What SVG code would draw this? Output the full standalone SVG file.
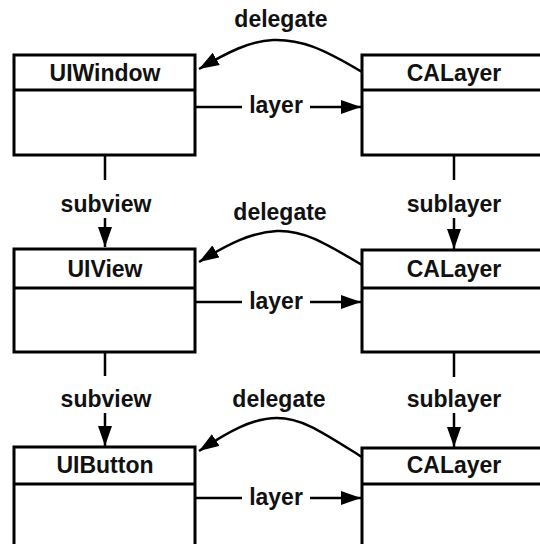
<svg xmlns="http://www.w3.org/2000/svg" width="540" height="544" viewBox="0 0 540 544">
<style>
.box{fill:#fff;stroke:#000;stroke-width:3}
.div{stroke:#000;stroke-width:3}
.ln{fill:none;stroke:#000;stroke-width:2.5}
text{font-family:"Liberation Sans",Arial,Helvetica,sans-serif;font-weight:bold;font-size:23px;fill:#111;text-anchor:middle}
</style>
<defs>
<marker id="ah" markerUnits="userSpaceOnUse" markerWidth="22" markerHeight="16" refX="20" refY="7" orient="auto">
<path d="M0,0 L20,7 L0,14 z" fill="#000"/>
</marker>
</defs>
<rect width="540" height="544" fill="#fff"/>
<g id="connectors">
<path class="ln" d="M362,72 C322,48 300,39 273,40 C250,41 228,52 199,69" marker-end="url(#ah)"/>
<line class="ln" x1="195" y1="107" x2="242" y2="107"/>
<line class="ln" x1="310" y1="107" x2="361" y2="107" marker-end="url(#ah)"/>
<path class="ln" d="M362,265 C322,241 302,230 277,231 C252,232 228,244 199,262" marker-end="url(#ah)"/>
<line class="ln" x1="195" y1="302" x2="242" y2="302"/>
<line class="ln" x1="310" y1="302" x2="361" y2="302" marker-end="url(#ah)"/>
<path class="ln" d="M362,457 C322,432 302,418 277,418 C252,418 228,432 199,451" marker-end="url(#ah)"/>
<line class="ln" x1="195" y1="498" x2="242" y2="498"/>
<line class="ln" x1="310" y1="498" x2="361" y2="498" marker-end="url(#ah)"/>
<line class="ln" x1="105" y1="155" x2="105" y2="180"/>
<line class="ln" x1="105" y1="218" x2="105" y2="247" marker-end="url(#ah)"/>
<line class="ln" x1="105" y1="352" x2="105" y2="376"/>
<line class="ln" x1="105" y1="413" x2="105" y2="446" marker-end="url(#ah)"/>
<line class="ln" x1="454" y1="155" x2="454" y2="180"/>
<line class="ln" x1="454" y1="218" x2="454" y2="249" marker-end="url(#ah)"/>
<line class="ln" x1="454" y1="352" x2="454" y2="377"/>
<line class="ln" x1="454" y1="413" x2="454" y2="447" marker-end="url(#ah)"/>
<text x="281" y="27">delegate</text>
<text x="276" y="113">layer</text>
<text x="280" y="220">delegate</text>
<text x="276" y="309">layer</text>
<text x="279" y="407">delegate</text>
<text x="276" y="505">layer</text>
<text x="106" y="212">subview</text>
<text x="106" y="407">subview</text>
<text x="454" y="212">sublayer</text>
<text x="454" y="407">sublayer</text>
</g>
<g id="uiwindow">
<rect class="box" x="14" y="55" width="181" height="100"/>
<line class="div" x1="14" y1="90" x2="195" y2="90"/>
<text x="105" y="81">UIWindow</text>
</g>
<g id="calayer1">
<rect class="box" x="362" y="55" width="200" height="100"/>
<line class="div" x1="362" y1="90" x2="545" y2="90"/>
<text x="454" y="81">CALayer</text>
</g>
<g id="uiview">
<rect class="box" x="14" y="249" width="181" height="103"/>
<line class="div" x1="14" y1="288" x2="195" y2="288"/>
<text x="105" y="277">UIView</text>
</g>
<g id="calayer2">
<rect class="box" x="362" y="250" width="200" height="102"/>
<line class="div" x1="362" y1="288" x2="545" y2="288"/>
<text x="454" y="277">CALayer</text>
</g>
<g id="uibutton">
<rect class="box" x="14" y="447" width="181" height="120"/>
<line class="div" x1="14" y1="484" x2="195" y2="484"/>
<text x="105" y="473">UIButton</text>
</g>
<g id="calayer3">
<rect class="box" x="362" y="448" width="200" height="120"/>
<line class="div" x1="362" y1="484" x2="545" y2="484"/>
<text x="454" y="473">CALayer</text>
</g>
</svg>
